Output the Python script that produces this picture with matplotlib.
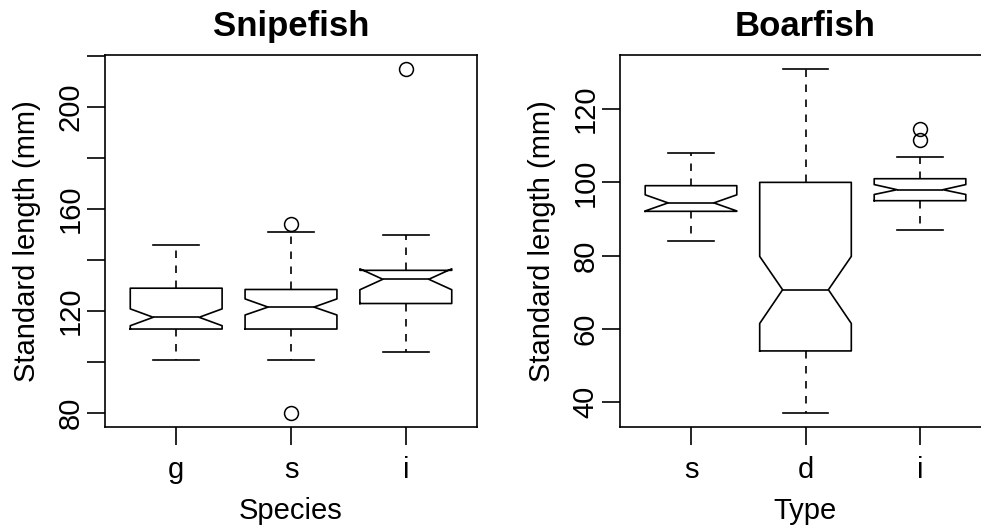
import numpy as np
import matplotlib
matplotlib.use('Agg')
import matplotlib.pyplot as plt

plt.rcParams['font.family'] = ['Liberation Sans', 'DejaVu Sans']

# Snipefish, by species
snipe_labels = ['g', 's', 'i']
snipe_whislo = [101, 101, 104]
snipe_q1 = [113, 113, 123]
snipe_med = [117.6, 121.6, 132.5]
snipe_q3 = [129, 128.5, 136]
snipe_whishi = [146, 151, 150]
snipe_cilo = [114.3, 118.5, 128.4]
snipe_cihi = [120.9, 124.8, 136.6]
snipe_fliers = [[], [80, 154], [215]]

# Boarfish, by type
boar_labels = ['s', 'd', 'i']
boar_whislo = [84, 37, 87]
boar_q1 = [92.1, 54, 95]
boar_med = [94.4, 70.7, 98]
boar_q3 = [99.1, 100, 101]
boar_whishi = [108, 131, 107]
boar_cilo = [92.2, 61.5, 96.7]
boar_cihi = [96.6, 79.8, 99.4]
boar_fliers = [[], [], [111.5, 114.5]]


def make_stats(labels, whislo, q1, med, q3, whishi, cilo, cihi, fliers):
    stats = []
    for i in range(len(labels)):
        stats.append(dict(label=labels[i], whislo=whislo[i], q1=q1[i],
                          med=med[i], q3=q3[i], whishi=whishi[i],
                          cilo=cilo[i], cihi=cihi[i], fliers=fliers[i]))
    return stats


def draw(ax, stats, title, xlabel, ylim, yticks, ylabels):
    lw = 1.2
    ax.bxp(stats, positions=[1, 2, 3], widths=0.8, shownotches=True,
           boxprops=dict(color='black', linewidth=lw),
           medianprops=dict(color='black', linewidth=lw),
           whiskerprops=dict(color='black', linewidth=lw,
                             linestyle=(0, (4.5, 4.5))),
           capprops=dict(color='black', linewidth=lw),
           flierprops=dict(marker='o', markerfacecolor='none',
                           markeredgecolor='black', markersize=10,
                           markeredgewidth=1.1))
    ax.set_xlim(0.38, 3.62)
    ax.set_ylim(*ylim)
    ax.set_yticks(yticks)
    ax.set_yticklabels(ylabels)
    for lab in ax.get_yticklabels():
        lab.set_rotation(90)
        lab.set_va('center')
    ax.tick_params(direction='out', length=13, width=lw, labelsize=21,
                   color='black')
    ax.tick_params(axis='x', pad=8)
    ax.tick_params(axis='y', pad=1.5)
    for sp in ax.spines.values():
        sp.set_linewidth(lw)
    ax.set_title(title, fontsize=25, fontweight='bold', pad=14)
    ax.set_xlabel(xlabel, fontsize=21)
    ax.set_ylabel('Standard length (mm)', fontsize=21)
    # label positions in axes fractions (the axes is 372 px square)
    ax.xaxis.set_label_coords(0.5, -70 / 372)
    ax.yaxis.set_label_coords(-64 / 372, 0.5)


fig = plt.figure(figsize=(9.81, 5.25), dpi=100)
ax1 = fig.add_axes([105 / 981, 98 / 525, 372 / 981, 372 / 525])
ax2 = fig.add_axes([620 / 981, 98 / 525, 371 / 981, 372 / 525])

draw(ax1, make_stats(snipe_labels, snipe_whislo, snipe_q1, snipe_med, snipe_q3,
                     snipe_whishi, snipe_cilo, snipe_cihi, snipe_fliers),
     'Snipefish', 'Species', (74.6, 220.4),
     np.arange(80, 221, 20), ['80', '', '120', '', '160', '', '200', ''])
draw(ax2, make_stats(boar_labels, boar_whislo, boar_q1, boar_med, boar_q3,
                     boar_whishi, boar_cilo, boar_cihi, boar_fliers),
     'Boarfish', 'Type', (33.24, 134.76),
     np.arange(40, 121, 20), ['40', '60', '80', '100', '120'])

fig.savefig('out.png', dpi=100)
